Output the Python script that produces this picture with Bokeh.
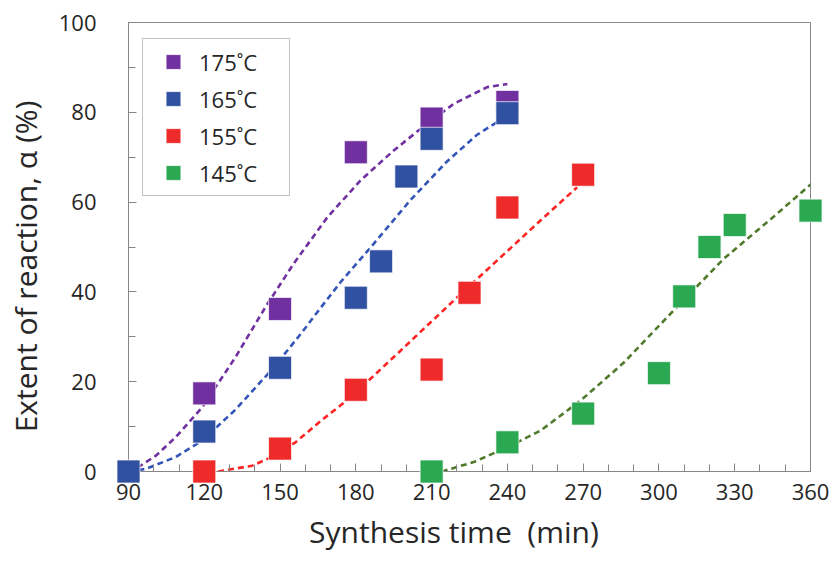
from bokeh.plotting import figure
from bokeh.models import Range1d, SingleIntervalTicker, Legend, LegendItem
from bokeh.embed import file_html
from bokeh.resources import INLINE

# ---- data ----
labels = ["175˚C", "165˚C", "155˚C", "145˚C"]

t175 = [120, 150, 180, 210, 240]
a175 = [17.4, 36.2, 71.1, 78.6, 82.3]
t165 = [90, 120, 150, 180, 190, 200, 210, 240]
a165 = [0, 8.9, 23.1, 38.7, 46.8, 65.7, 74.1, 79.8]
t155 = [120, 150, 180, 210, 225, 240, 270]
a155 = [0, 5.1, 18.2, 22.7, 39.8, 58.8, 66.1]
t145 = [210, 240, 270, 300, 310, 320, 330, 360]
a145 = [0, 6.5, 12.9, 21.9, 39.0, 50.0, 54.9, 58.1]

# fitted curves (dashed)
ft175 = [90, 94, 101, 108.6, 119.2, 132.4, 144.2, 155.4, 168.7, 181.8, 195, 205.6, 218.8, 232, 240]
fa175 = [0, 1.0, 3.6, 7.6, 14.3, 25.5, 36.6, 46.3, 56.6, 64.8, 71.5, 76.3, 81.9, 85.6, 86.3]
ft165 = [90, 97, 108.6, 119.2, 132.4, 146.9, 158, 166, 174, 186, 201.7, 216, 228, 237, 240]
fa165 = [0, 0.6, 3.2, 6.9, 13.8, 22.8, 30.5, 36.4, 42.2, 50.0, 60.5, 69.0, 75.0, 78.2, 79.0]
ft155 = [125.5, 139, 148.2, 156.1, 166, 177.9, 197.7, 218.8, 237.3, 253.1, 267.6]
fa155 = [0, 1.3, 3.6, 6.5, 11.2, 16.5, 26.9, 38.1, 47.7, 55.9, 63.3]
ft145 = [214, 226.7, 239.9, 253.1, 269, 286, 305.9, 325.7, 345.5, 360]
fa145 = [0, 2.1, 5.4, 9.1, 15.8, 24.2, 35.9, 47.4, 56.8, 63.9]

x_min, x_max, x_step = 90, 360, 30
y_min, y_max, y_step = 0, 100, 20

marker_colors = ["#7030A0", "#3050A2", "#EE2A2A", "#2BA852"]
curve_colors = ["#7030A0", "#3355B8", "#FF2424", "#4F7A2C"]

FONT = "Open Sans"
TXT = "#262626"
AX = "#878787"
NB = "\u00a0"

p = figure(width=834, height=567, output_backend="svg", toolbar_location=None,
           x_range=Range1d(x_min, x_max), y_range=Range1d(y_min, y_max),
           min_border_left=128, min_border_right=24, min_border_top=22, min_border_bottom=96)
p.background_fill_color = "white"
p.border_fill_color = "white"
p.xgrid.visible = False
p.ygrid.visible = False
p.outline_line_color = AX
p.outline_line_width = 1

xa = p.xaxis[0]
ya = p.yaxis[0]
xa.ticker = SingleIntervalTicker(interval=x_step, num_minor_ticks=3)
ya.ticker = SingleIntervalTicker(interval=y_step, num_minor_ticks=2)
for ax in (xa, ya):
    ax.axis_line_color = AX
    ax.major_tick_line_color = AX
    ax.minor_tick_line_color = AX
    ax.major_tick_in = 8
    ax.major_tick_out = 0
    ax.minor_tick_in = 7
    ax.minor_tick_out = 0
    ax.major_label_text_font = FONT
    ax.major_label_text_font_size = "22px"
    ax.major_label_text_color = TXT
    ax.axis_label_text_font = FONT
    ax.axis_label_text_font_size = "30px"
    ax.axis_label_text_font_style = "normal"
    ax.axis_label_text_color = TXT
xa.major_label_standoff = 12
ya.major_label_standoff = 32
xa.axis_label_standoff = 8
ya.axis_label_standoff = 10
xa.axis_label = "Synthesis time" + NB + " (min)" + NB * 4
ya.axis_label = "Extent of reaction, α (%)" + NB * 5

fits = [(ft175, fa175), (ft165, fa165), (ft155, fa155), (ft145, fa145)]
for (fx, fy), c in zip(fits, curve_colors):
    p.line(fx, fy, line_color=c, line_width=2.6, line_dash="6 4")

series = [(t175, a175), (t165, a165), (t155, a155), (t145, a145)]
rends = []
for (sx, sy), c in zip(series, marker_colors):
    r = p.scatter(sx, sy, marker="square", size=23, fill_color=c, line_color="white",
                  line_alpha=0.7, line_width=1, level="overlay")
    rends.append(r)

legend = Legend(items=[LegendItem(label=l, renderers=[r]) for l, r in zip(labels, rends)],
                location=(14, 275), margin=0, padding=4, spacing=0,
                glyph_width=52, glyph_height=37, label_standoff=0,
                label_width=86, label_height=37,
                label_text_font=FONT, label_text_font_size="22px", label_text_color=TXT,
                border_line_color=AX, border_line_width=1,
                background_fill_color="white", background_fill_alpha=1)
p.add_layout(legend)

open("out.html", "w").write(file_html(p, INLINE))
